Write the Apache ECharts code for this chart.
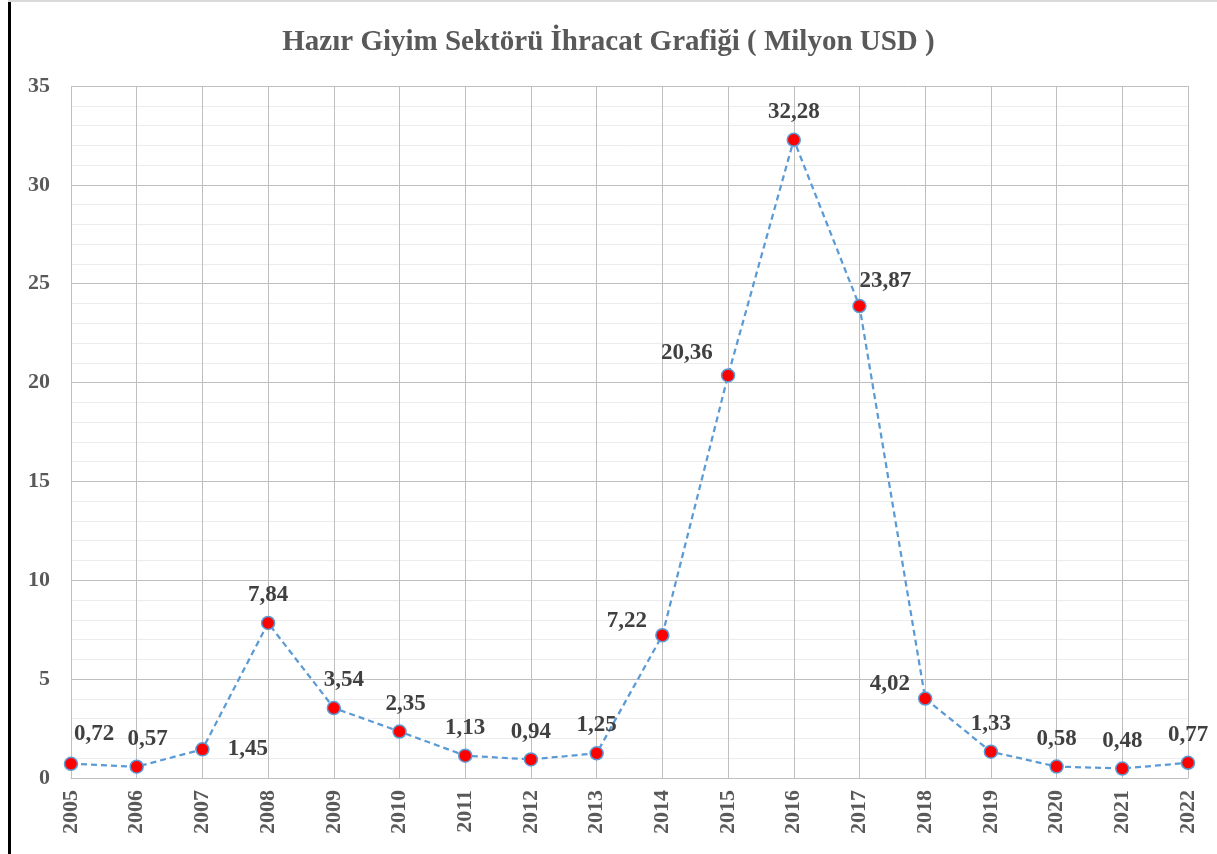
<!DOCTYPE html>
<html><head><meta charset="utf-8">
<script src="https://cdn.jsdelivr.net/npm/echarts@6/dist/echarts.min.js"></script>
<style>html,body{margin:0;padding:0;background:#fff}#c{width:1217px;height:854px}</style>
</head><body><div id="c"></div>
<script>
const years = ['2005','2006','2007','2008','2009','2010','2011','2012','2013','2014','2015','2016','2017','2018','2019','2020','2021','2022'];
const values = [0.72,0.57,1.45,7.84,3.54,2.35,1.13,0.94,1.25,7.22,20.36,32.28,23.87,4.02,1.33,0.58,0.48,0.77];
const labelPos = ['top','top','right','top','top','top','top','top','top','left','left','top','top','left','top','top','top','top'];
const titleText = 'Hazır Giyim Sektörü İhracat Grafiği ( Milyon USD )';
const serif = '"Liberation Serif","DejaVu Serif",serif';

const data = values.map((v,i)=>{
  const p = labelPos[i];
  const lab = {position: p};
  if (p==='top') lab.distance = 9;
  if (p==='right') { lab.distance = 18; }
  if (p==='left') { lab.distance = 8; lab.offset=[0,-14]; }
  if (i===0) lab.offset=[23,-2];
  if (i===1) lab.offset=[11,0];
  if (i===4) lab.offset=[10,0];
  if (i===5) lab.offset=[6,0];
  if (i===10) lab.offset=[0,-22];
  if (i===12) { lab.offset=[26,3]; }
  return {value: v, label: lab};
});

const chart = echarts.init(document.getElementById('c'));
chart.setOption({
  animation:false,
  backgroundColor:'#fff',
  title:{text:titleText,left:'center',top:23,textStyle:{fontFamily:serif,fontWeight:'bold',fontSize:29,color:'#595959'}},
  grid:{left:71,right:29,top:86,bottom:76,containLabel:false},
  xAxis:{type:'category',data:years,boundaryGap:false,
    axisLine:{lineStyle:{color:'#bfbfbf'}},axisTick:{show:false},
    axisLabel:{rotate:90,fontFamily:serif,fontWeight:'bold',fontSize:22,color:'#595959',margin:12},
    splitLine:{show:true,lineStyle:{color:'#bfbfbf',width:1}}},
  yAxis:{type:'value',min:0,max:35,interval:5,
    axisLine:{show:false},axisTick:{show:false},
    axisLabel:{fontFamily:serif,fontWeight:'bold',fontSize:22,color:'#595959',margin:21},
    splitLine:{lineStyle:{color:'#bfbfbf',width:1}},
    minorTick:{show:false,splitNumber:5},
    minorSplitLine:{show:true,lineStyle:{color:'#ececec',width:1}}},
  series:[{type:'line',data:data,symbol:'circle',symbolSize:13,
    lineStyle:{color:'#5b9bd5',width:2.25,type:[6,4]},
    itemStyle:{color:'#ff0000',borderColor:'#5b9bd5',borderWidth:1.5},
    label:{show:true,fontFamily:serif,fontWeight:'bold',fontSize:23,color:'#404040',
      formatter:p=>p.value.toFixed(2).replace('.',',')}}],
  graphic:[
    {type:'rect',shape:{x:8,y:0,width:3,height:854},style:{fill:'#000'}},
    {type:'rect',shape:{x:8,y:0,width:1209,height:2},style:{fill:'#d9d9d9'}}
  ]
});
</script></body></html>
